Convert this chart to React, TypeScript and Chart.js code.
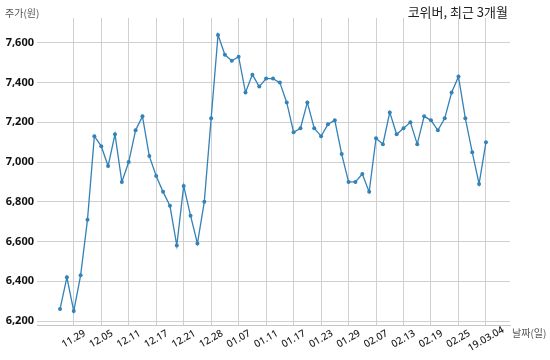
import React, { useEffect, useRef } from "react";
import { Chart, registerables } from "chart.js";

Chart.register(...registerables);

const dates: string[] = [
  "11.27", "11.28", "11.29", "11.30", "12.03", "12.04", "12.05", "12.06", "12.07", "12.10",
  "12.11", "12.12", "12.13", "12.14", "12.17", "12.18", "12.19", "12.20", "12.21", "12.24",
  "12.26", "12.27", "12.28", "01.02", "01.03", "01.04", "01.07", "01.08", "01.09", "01.10",
  "01.11", "01.14", "01.15", "01.16", "01.17", "01.18", "01.21", "01.22", "01.23", "01.24",
  "01.25", "01.28", "01.29", "01.30", "01.31", "02.01", "02.07", "02.08", "02.11", "02.12",
  "02.13", "02.14", "02.15", "02.18", "02.19", "02.20", "02.21", "02.22", "02.25", "02.26",
  "02.27", "02.28", "19.03.04",
];

const prices: number[] = [
  6260, 6420, 6250, 6430, 6710, 7130, 7080, 6980, 7140, 6900,
  7000, 7160, 7230, 7030, 6930, 6850, 6780, 6580, 6880, 6730,
  6590, 6800, 7220, 7640, 7540, 7510, 7530, 7350, 7440, 7380,
  7420, 7420, 7400, 7300, 7150, 7170, 7300, 7170, 7130, 7190,
  7210, 7040, 6900, 6900, 6940, 6850, 7120, 7090, 7250, 7140,
  7170, 7200, 7090, 7230, 7210, 7160, 7220, 7350, 7430, 7220,
  7050, 6890, 7100,
];

const xTickIndices: number[] = [2, 6, 10, 14, 18, 22, 26, 30, 34, 38, 42, 46, 50, 54, 58, 62];
const yTickValues: number[] = [6200, 6400, 6600, 6800, 7000, 7200, 7400, 7600];

const titleText = "코위버, 최근 3개월";
const yAxisLabel = "주가(원)";
const xAxisLabel = "날짜(일)";

const FONT = "'Noto Sans', 'Noto Sans CJK KR', sans-serif";
const KFONT = "'Noto Sans CJK KR', 'Noto Sans', sans-serif";

export default function App() {
  const ref = useRef<HTMLCanvasElement | null>(null);

  useEffect(() => {
    if (!ref.current) return;
    const textPlugin = {
      id: "texts",
      afterDraw(chart: any) {
        const ctx = chart.ctx;
        ctx.save();
        ctx.textBaseline = "middle";
        ctx.fillStyle = "#222";
        ctx.font = `13px ${KFONT}`;
        ctx.textAlign = "right";
        ctx.fillText(titleText, 508, 12);
        ctx.fillStyle = "#555";
        ctx.font = `10px ${KFONT}`;
        ctx.textAlign = "left";
        ctx.fillText(yAxisLabel, 5, 13);
        ctx.fillText(xAxisLabel, 512, 333);

        // rotated x tick labels, centred under each tick
        const xs = chart.scales.x;
        ctx.fillStyle = "#222";
        ctx.font = `500 10px ${FONT}`;
        ctx.textAlign = "center";
        ctx.textBaseline = "middle";
        xTickIndices.forEach((idx) => {
          const px = xs.getPixelForValue(idx);
          ctx.save();
          ctx.translate(px, 339);
          ctx.rotate((-30 * Math.PI) / 180);
          ctx.fillText(dates[idx], 0, 0);
          ctx.restore();
        });
        ctx.restore();
      },
    };

    const chart = new Chart(ref.current, {
      type: "line",
      data: {
        datasets: [
          {
            data: prices.map((v, i) => ({ x: i, y: v })),
            borderColor: "#3382b8",
            backgroundColor: "#3382b8",
            borderWidth: 1.3,
            pointRadius: 2,
            pointHoverRadius: 2,
            pointBorderWidth: 0,
            tension: 0,
          },
        ],
      },
      options: {
        animation: false,
        responsive: false,
        maintainAspectRatio: false,
        layout: { padding: { top: 18, right: 40, left: 0, bottom: 0 } },
        plugins: {
          legend: { display: false },
          tooltip: { enabled: false },
          title: { display: false },
        },
        scales: {
          x: {
            type: "linear",
            min: -3.35,
            max: 65.5,
            afterFit(scale: any) {
              scale.height = 35;
            },
            afterBuildTicks(scale: any) {
              scale.ticks = xTickIndices.map((v) => ({ value: v }));
            },
            grid: {
              color: "#d0d0d0",
              lineWidth: 1,
              tickLength: 0,
            },
            border: { display: true, color: "#c8c8c8", width: 1 },
            ticks: {
              display: false,
            },
          },
          y: {
            type: "linear",
            min: 6180,
            max: 7725,
            afterFit(scale: any) {
              scale.width = 37;
            },
            afterBuildTicks(scale: any) {
              scale.ticks = yTickValues.map((v) => ({ value: v }));
            },
            grid: {
              color: "#d0d0d0",
              lineWidth: 1,
              tickLength: 0,
            },
            border: { display: false },
            ticks: {
              padding: 3,
              color: "#111",
              font: { family: FONT, size: 11, weight: "bold" },
              callback: (value: any) => Number(value).toLocaleString("en-US"),
            },
          },
        },
      },
      plugins: [textPlugin],
    } as any);
    return () => chart.destroy();
  }, []);

  return (
    <div style={{ position: "fixed", left: 0, top: 0, width: 550, height: 360, background: "#fff" }}>
      <canvas ref={ref} width={550} height={360} style={{ width: 550, height: 360 }} />
    </div>
  );
}
